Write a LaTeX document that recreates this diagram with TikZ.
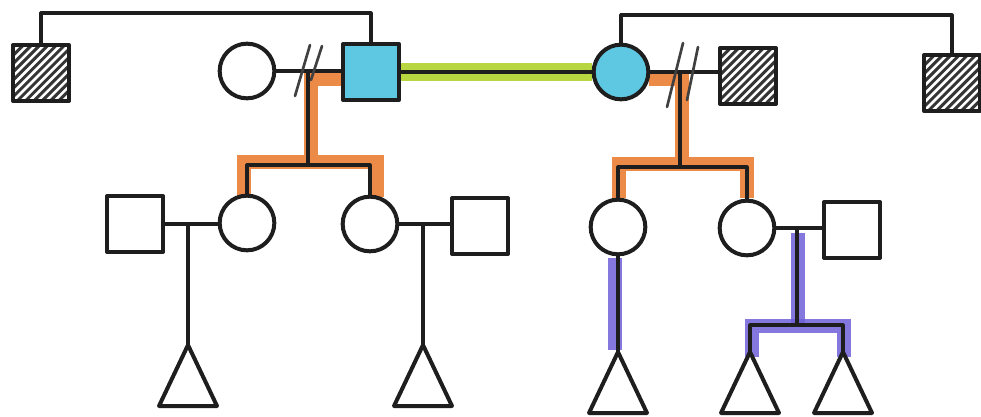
\documentclass[tikz,border=0pt]{standalone}
\usetikzlibrary{calc}
\definecolor{ink}{HTML}{1E1E1E}
\definecolor{carrier}{HTML}{5EC8E2}
\definecolor{marryhl}{HTML}{B8D640}
\definecolor{orangehl}{HTML}{EC8A48}
\definecolor{violethl}{HTML}{6E60D8}
\pgfdeclarelayer{marker}
\pgfsetlayers{marker,main}
\begin{document}
\begin{tikzpicture}[x=0.75pt,y=-0.75pt,
  line join=round, line cap=round,
  person/.style={draw=ink, line width=3pt, inner sep=0pt, fill=white},
  male/.style={person, rectangle, minimum size=42pt},
  female/.style={person, circle, minimum size=41pt},
  hatched/.style={male, fill=ink!90,
    path picture={\foreach \k in {-12,...,12}
      \draw[white, line width=1.9pt]
        ([xshift=\k*6.2pt]path picture bounding box.center)
        ++(-40pt,-40pt) -- ++(80pt,80pt);}},
  link/.style={draw=ink, line width=2.4pt},
  slash/.style={draw=ink!85, line width=2pt},
  hl/.style={line width=11pt, line cap=butt, line join=miter},
  unk/.pic={\draw[draw=ink, line width=3pt, fill=white, line join=round]
    (0,0) -- (29,61) -- (-29,61) -- cycle;}
]
\useasboundingbox (0,0) rectangle (981,417);

% generation I
\node[hatched] (hL) at (41,73) {};
\node[female] (gm) at (247,71) {};
\node[male, fill=carrier] (pa) at (371,72) {};
\node[female, fill=carrier] (pb) at (621,72) {};
\node[hatched] (hR1) at (748,76) {};
\node[hatched] (hR2) at (952,83) {};

% generation II
\node[male] (s1) at (135,224) {};
\node[female] (c1) at (247,223) {};
\node[female] (c2) at (370,224) {};
\node[male] (s2) at (480,226) {};
\node[female] (c3) at (618,227) {};
\node[female] (c4) at (747,228) {};
\node[male] (s3) at (852,230) {};

% generation III (sex unknown)
\coordinate (t1) at (188,345);
\coordinate (t2) at (423,345);
\coordinate (t3) at (618,352);
\coordinate (t4) at (750,352);
\coordinate (t5) at (843,352);
\foreach \t in {t1,t2,t3,t4,t5} \pic at (\t) {unk};

% line-of-descent points
\coordinate (u1) at (308,71);
\coordinate (b1) at (308,165);
\coordinate (u2) at (680,72);
\coordinate (b2) at (680,167);
\coordinate (u3) at (188,224);
\coordinate (u4) at (423,224);
\coordinate (u5) at (797,228);
\coordinate (b5) at (797,325);

% highlighter marks
\begin{pgfonlayer}{marker}
  \draw[marryhl, line width=13pt, line cap=butt] (pa.east) -- (pb.west);
  \draw[orangehl, hl] (pa.west |- 0,79) -- (311,79) -- (311,162);
  \draw[orangehl, hl] (244,197) -- (244,162) -- (377,162) -- (377,197);
  \draw[orangehl, hl] (649,79) -- (682,79) -- (682,164);
  \draw[orangehl, hl] (619,198) -- (619,164) -- (747,164) -- (747,198);
  \draw[violethl, opacity=0.85, hl] (615,258) -- (615,350);
  \draw[violethl, opacity=0.85, hl] (798,233) -- (798,323);
  \draw[violethl, opacity=0.85, hl] (752,357) -- (752,326) -- (844,326) -- (844,357);
\end{pgfonlayer}

% sibship of the far-left and far-right relatives
\draw[link] (hL.north) -- (hL.north |- 0,13) -| (pa.north);
\draw[link] (pb.north) -- (pb.north |- 0,15) -| (hR2.north);

% partnerships
\draw[link] (gm.east) -- (gm.east -| pa.west);
\draw[link] (pa.east) -- (pa.east -| pb.west);
\draw[link] (pb.east) -- (pb.east -| hR1.west);
\draw[link] (s1.east) -- (s1.east -| c1.west);
\draw[link] (c2.east) -- (c2.east -| s2.west);
\draw[link] (c4.east) -- (c4.east -| s3.west);

% separation marks
\draw[slash] (295,96) -- (310,45);
\draw[slash] (311,80) -- (322,46);
\draw[slash] (667,107) -- (683,43);
\draw[slash] (687,100) -- (698,47);

% descent
\draw[link] (u1) -- (b1);
\draw[link] (c1.north) |- (b1) -| (c2.north);
\draw[link] (u2) -- (b2);
\draw[link] (c3.north) |- (b2) -| (c4.north);
\draw[link] (u3) -- (t1);
\draw[link] (u4) -- (t2);
\draw[link] (c3.south) -- (t3);
\draw[link] (u5) -- (b5);
\draw[link] (t4) |- (b5) -| (t5);
\end{tikzpicture}
\end{document}
